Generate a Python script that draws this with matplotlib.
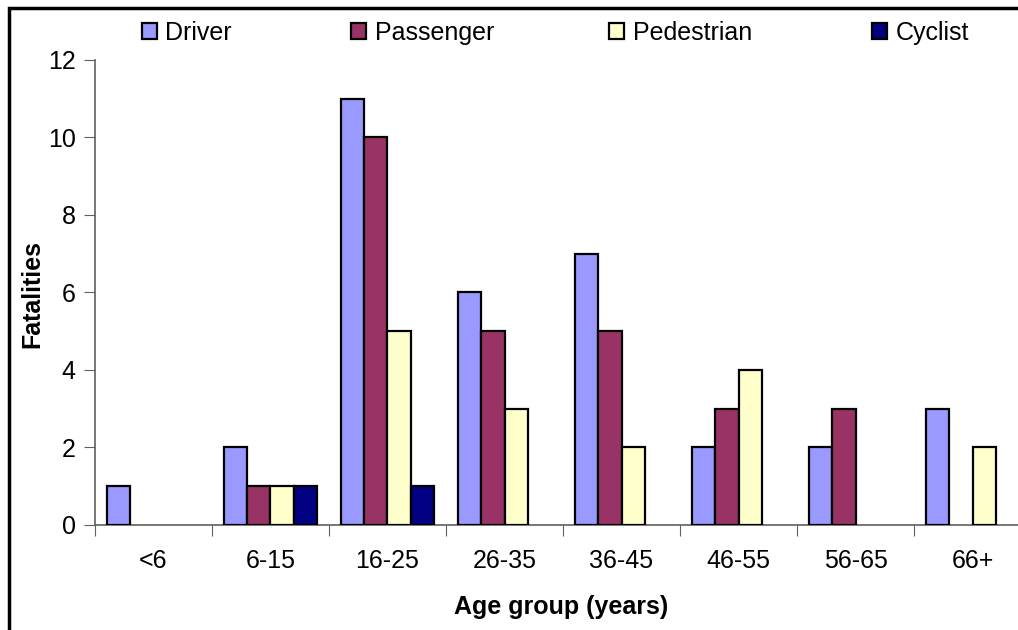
import numpy as np
import matplotlib.pyplot as plt
from matplotlib.patches import Rectangle, Patch

plt.rcParams['font.family'] = ['Liberation Sans', 'DejaVu Sans']

# Fatalities by age group and road user type
age_groups = ['<6', '6-15', '16-25', '26-35', '36-45', '46-55', '56-65', '66+']
driver = [1, 2, 11, 6, 7, 2, 2, 3]
passenger = [0, 1, 10, 5, 5, 3, 3, 0]
pedestrian = [0, 1, 5, 3, 2, 4, 0, 2]
cyclist = [0, 1, 1, 0, 0, 0, 0, 0]

series = [('Driver', driver, '#9999FF'),
          ('Passenger', passenger, '#993366'),
          ('Pedestrian', pedestrian, '#FFFFCC'),
          ('Cyclist', cyclist, '#000080')]

fs = 18

fig = plt.figure(figsize=(10.18, 6.3), dpi=100)
ax = fig.add_axes([0.0933, 0.1667, 0.9195, 0.7381])

x = np.arange(len(age_groups))
w = 0.197
for i, (name, vals, col) in enumerate(series):
    vals = np.array(vals, dtype=float)
    pos = x + (i - 1.5) * w
    keep = vals > 0
    ax.bar(pos[keep], vals[keep], width=w, color=col, edgecolor='black',
           linewidth=1.6, zorder=3)

ax.set_ylim(0, 12)
ax.set_yticks(range(0, 13, 2))
ax.set_xlim(-0.5, len(age_groups) - 0.5)

# category boundaries as ticks, labels centred under each group
ax.set_xticks(np.arange(-0.5, len(age_groups), 1.0))
ax.set_xticklabels([])
ax.set_xticks(x, minor=True)
ax.set_xticklabels(age_groups, minor=True)
ax.tick_params(axis='x', which='major', direction='out', length=8, color='#606060')
ax.tick_params(axis='x', which='minor', length=0, pad=17, labelsize=fs)
ax.tick_params(axis='y', direction='out', length=8, color='#606060', pad=6, labelsize=fs)

for side in ['top', 'right']:
    ax.spines[side].set_visible(False)
for side in ['left', 'bottom']:
    ax.spines[side].set_color('#606060')
    ax.spines[side].set_linewidth(1.2)

fig.text(0.032, 0.5335, 'Fatalities', rotation=90, fontsize=fs, fontweight='bold',
         ha='center', va='center')
fig.text(0.551, 0.036, 'Age group (years)', fontsize=fs, fontweight='bold',
         ha='center', va='center')

# one legend entry per road user, spread along the top
legend_x = [0.139, 0.345, 0.598, 0.857]
for (name, vals, col), lx in zip(series, legend_x):
    leg = fig.legend(handles=[Patch(facecolor=col, edgecolor='black', linewidth=1.6, label=name)],
                     loc='center left', bbox_to_anchor=(lx, 0.948), frameon=False,
                     fontsize=fs, handlelength=0.6, handleheight=0.6, handletextpad=0.35,
                     borderpad=0, borderaxespad=0)

# chart border
fig.patches.append(Rectangle((0.0085, -0.05), 1.2, 1.038, transform=fig.transFigure,
                             fill=False, edgecolor='black', linewidth=2.5))

fig.savefig('out.png', dpi=100)
